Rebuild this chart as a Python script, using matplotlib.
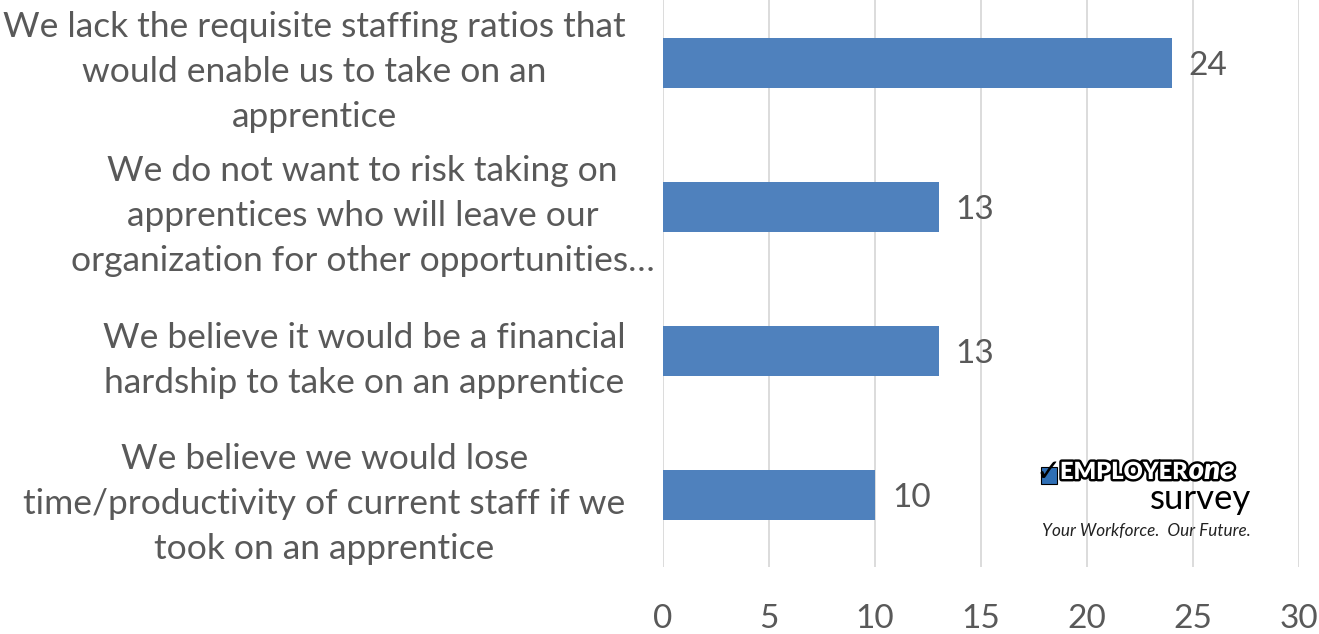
import matplotlib
matplotlib.use('Agg')

import matplotlib.pyplot as plt
import matplotlib.patheffects as pe
from matplotlib.patches import Rectangle
from matplotlib.transforms import ScaledTranslation

plt.rcParams['font.family'] = ['Lato', 'DejaVu Sans']

reasons = [
    "We lack the requisite staffing ratios that\nwould enable us to take on an\napprentice",
    "We do not want to risk taking on\napprentices who will leave our\norganization for other opportunities…",
    "We believe it would be a financial\nhardship to take on an apprentice",
    "We believe we would lose\ntime/productivity of current staff if we\ntook on an apprentice",
]
counts = [24, 13, 13, 10]
x_ticks = [0, 5, 10, 15, 20, 25, 30]

text_color = "#595959"
bar_color = "#4F81BD"

fig = plt.figure(figsize=(13.19, 6.34), dpi=100)
ax = fig.add_axes([0.5027, 0.1057, 0.4822, 0.9085])

ypos = list(range(len(reasons)))
ax.barh(ypos, counts, height=0.35, color=bar_color, zorder=3)

for y, v in zip(ypos, counts):
    ax.text(v + 0.8, y + 0.02, str(v), va='center', ha='left', fontsize=24, color=text_color)

ax.set_xlim(0, 30)
ax.set_ylim(3.5, -0.5)
ax.set_xticks(x_ticks)
ax.set_xticklabels([str(t) for t in x_ticks], fontsize=24, color=text_color)
ax.set_yticks(ypos)
ax.set_yticklabels(reasons, fontsize=25.5, color=text_color, multialignment='center',
                   linespacing=1.5)
ax.tick_params(axis='both', length=0)
ax.tick_params(axis='x', pad=27)
ax.tick_params(axis='y', pad=27)

# second label sits further right in the original
lbl = ax.get_yticklabels()[1]
lbl.set_transform(lbl.get_transform() + ScaledTranslation(0.29, 0, fig.dpi_scale_trans))

ax.grid(axis='x', color='#d9d9d9', linewidth=1.3, zorder=0)
for side in ['top', 'right', 'bottom', 'left']:
    ax.spines[side].set_visible(False)

# logo
W, H = 1319, 634
fig.patches.append(Rectangle((1041 / W, 1 - 484 / H), 16 / W, 17 / H,
                             transform=fig.transFigure, facecolor='#2f6fb5',
                             edgecolor='black', linewidth=0.8))
fig.text(1048 / W, 1 - 473 / H, "\u2713", fontsize=22, color='black', ha='center', va='center',
         fontweight='bold', family='DejaVu Sans')
outline = [pe.withStroke(linewidth=3.5, foreground='black')]
t1 = fig.text(1060 / W, 1 - 472 / H, "EMPLOYER", fontsize=17, fontweight='heavy',
              color='white', ha='left', va='center', path_effects=outline)
fig.canvas.draw()
bb = t1.get_window_extent()
fig.text(bb.x1 / W + 0.001, 1 - 471 / H, "one", fontsize=21, fontweight='heavy',
         color='white', ha='left', va='center', style='italic', path_effects=outline)
fig.text(1251 / W, 1 - 499 / H, "survey", fontsize=25, color='black', ha='right', va='center')
fig.text(1251 / W, 1 - 531 / H, "Your Workforce.  Our Future.", fontsize=12.3, style='italic',
         color='#222222', ha='right', va='center')

plt.savefig("out.png", dpi=100)
plt.close()
